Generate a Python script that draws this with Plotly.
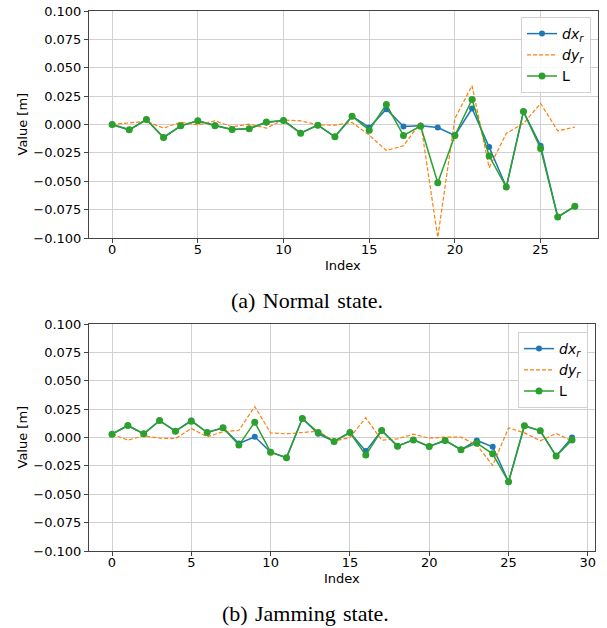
import plotly.graph_objects as go

W, H = 607, 628

# ---- data: (a) Normal state ----
idx_a = list(range(28))
dx_a = [0.0, -0.0047, 0.0044, -0.0114, -0.0012, 0.0032, -0.0006, -0.0044, -0.0038, 0.0018,
        0.0035, -0.0076, -0.0006, -0.0108, 0.0073, -0.0026, 0.0135, -0.0018, -0.0012, -0.0026,
        -0.0097, 0.0141, -0.0199, -0.0551, 0.0114, -0.0188, -0.0815, -0.0721]
dy_a = [0.0, 0.0015, 0.0028, -0.0032, 0.0020, -0.0003, 0.0032, -0.0020, 0.0003, -0.0032,
        0.0040, 0.0032, -0.0003, -0.0006, 0.0018, -0.0094, -0.0229, -0.0188, 0.0020, -0.0995,
        0.0053, 0.0343, -0.0380, -0.0079, 0.0009, 0.0185, -0.0056, -0.0023]
L_a = [0.0, -0.0047, 0.0044, -0.0114, -0.0012, 0.0032, -0.0012, -0.0044, -0.0038, 0.0023,
       0.0035, -0.0076, -0.0006, -0.0108, 0.0073, -0.0050, 0.0176, -0.0097, -0.0015, -0.0513,
       -0.0097, 0.0220, -0.0278, -0.0551, 0.0114, -0.0211, -0.0815, -0.0721]

# ---- data: (b) Jamming state ----
idx_b = list(range(30))
dx_b = [0.0029, 0.0106, 0.0032, 0.0149, 0.0056, 0.0150, 0.0044, 0.0085, -0.0053, 0.0006,
        -0.0129, -0.0179, 0.0167, 0.0032, -0.0035, 0.0044, -0.0120, 0.0062, -0.0076, -0.0021,
        -0.0079, -0.0026, -0.0108, -0.0026, -0.0082, -0.0390, 0.0103, 0.0059, -0.0164, 0.0000]
dy_b = [0.0029, -0.0023, 0.0015, -0.0006, -0.0009, 0.0079, 0.0006, 0.0050, 0.0064, 0.0273,
        0.0041, 0.0032, 0.0044, 0.0056, -0.0032, 0.0000, 0.0173, -0.0023, -0.0012, 0.0029,
        -0.0006, 0.0003, 0.0003, -0.0067, -0.0246, 0.0085, 0.0041, -0.0029, 0.0035, -0.0029]
L_b = [0.0029, 0.0106, 0.0032, 0.0149, 0.0056, 0.0144, 0.0044, 0.0085, -0.0067, 0.0135,
       -0.0129, -0.0179, 0.0167, 0.0044, -0.0035, 0.0044, -0.0155, 0.0062, -0.0076, -0.0021,
       -0.0079, -0.0026, -0.0108, -0.0050, -0.0144, -0.0390, 0.0103, 0.0059, -0.0164, -0.0021]

y_ticks = [-0.100, -0.075, -0.050, -0.025, 0.000, 0.025, 0.050, 0.075, 0.100]
y_ticktext = [("\u2212" if v < 0 else "") + f"{abs(v):.3f}" for v in y_ticks]

names = ["<i>dx</i><sub><i>r</i></sub>", "<i>dy</i><sub><i>r</i></sub>", "L"]
BLUE, ORANGE, GREEN = "#1f77b4", "#ff7f0e", "#2ca02c"

fig = go.Figure()

def add_panel(x, dx, dy, L, xa, ya, leg):
    fig.add_trace(go.Scatter(x=x, y=dx, mode="lines+markers", name=names[0],
                             line=dict(color=BLUE, width=1.5), marker=dict(size=6, color=BLUE),
                             xaxis=xa, yaxis=ya, legend=leg))
    fig.add_trace(go.Scatter(x=x, y=dy, mode="lines", name=names[1],
                             line=dict(color=ORANGE, width=1.2, dash="4px,2px"),
                             xaxis=xa, yaxis=ya, legend=leg))
    fig.add_trace(go.Scatter(x=x, y=L, mode="lines+markers", name=names[2],
                             line=dict(color=GREEN, width=1.5), marker=dict(size=7, color=GREEN),
                             xaxis=xa, yaxis=ya, legend=leg))

add_panel(idx_a, dx_a, dy_a, L_a, "x", "y", "legend")
add_panel(idx_b, dx_b, dy_b, L_b, "x2", "y2", "legend2")

tickfont = dict(family="DejaVu Sans", size=13, color="black")
common_axis = dict(showgrid=True, gridcolor="#d0d0d0", gridwidth=1, zeroline=False,
                   showline=True, linecolor="#444", linewidth=1, mirror=True,
                   ticks="outside", ticklen=4, tickcolor="#444", tickfont=tickfont,
                   automargin=False)

def fx(px):
    return px / W

def fy(py):
    return 1 - py / H

def px_x(a, b):
    return [fx(a), fx(b)]

def px_y(top, bottom):
    return [fy(bottom), fy(top)]

legfont = dict(family="DejaVu Sans", size=14, color="black")

fig.update_layout(
    width=W, height=H, margin=dict(l=0, r=0, t=0, b=0, pad=0, autoexpand=False),
    paper_bgcolor="white", plot_bgcolor="white", showlegend=True,
    xaxis=dict(domain=px_x(89, 598), range=[-1.35, 28.35], tickvals=[0, 5, 10, 15, 20, 25],
               anchor="y", ticklabelstandoff=-5, **common_axis),
    yaxis=dict(domain=px_y(11, 238), range=[-0.1, 0.1], tickvals=y_ticks, ticktext=y_ticktext,
               anchor="x", **common_axis),
    xaxis2=dict(domain=px_x(89, 595), range=[-1.45, 30.45], tickvals=[0, 5, 10, 15, 20, 25, 30],
                anchor="y2", ticklabelstandoff=-5, **common_axis),
    yaxis2=dict(domain=px_y(324, 551), range=[-0.1, 0.1], tickvals=y_ticks, ticktext=y_ticktext,
                anchor="x2", **common_axis),
    legend=dict(x=fx(591), y=fy(17), xanchor="right", yanchor="top",
                bgcolor="rgba(255,255,255,0.85)", bordercolor="#d0d0d0", borderwidth=1,
                font=legfont, tracegroupgap=0),
    legend2=dict(x=fx(588), y=fy(332), xanchor="right", yanchor="top",
                 bgcolor="rgba(255,255,255,0.85)", bordercolor="#d0d0d0", borderwidth=1,
                 font=legfont, tracegroupgap=0),
)

labfont = dict(family="DejaVu Sans", size=13, color="black")
capfont = dict(family="Liberation Serif", size=22, color="black")
SP = "\u2004"
ann = [
    dict(text="Value [m]", x=fx(22), y=fy(124.5), textangle=-90, font=labfont),
    dict(text="Index", x=fx(343), y=fy(265), font=labfont),
    dict(text=f"(a){SP}Normal{SP}state.", x=fx(306.5), y=fy(301), font=capfont),
    dict(text="Value [m]", x=fx(22), y=fy(437.5), textangle=-90, font=labfont),
    dict(text="Index", x=fx(342), y=fy(578), font=labfont),
    dict(text=f"(b){SP}Jamming{SP}state.", x=fx(305), y=fy(613), font=capfont),
]
for a in ann:
    fig.add_annotation(xref="paper", yref="paper", showarrow=False,
                       xanchor="center", yanchor="middle", **a)

# remove the default 8px page margin so the figure fills the window exactly
fig.write_html("out.html", config={"displayModeBar": False},
               post_script="document.body.style.margin='0px';")
